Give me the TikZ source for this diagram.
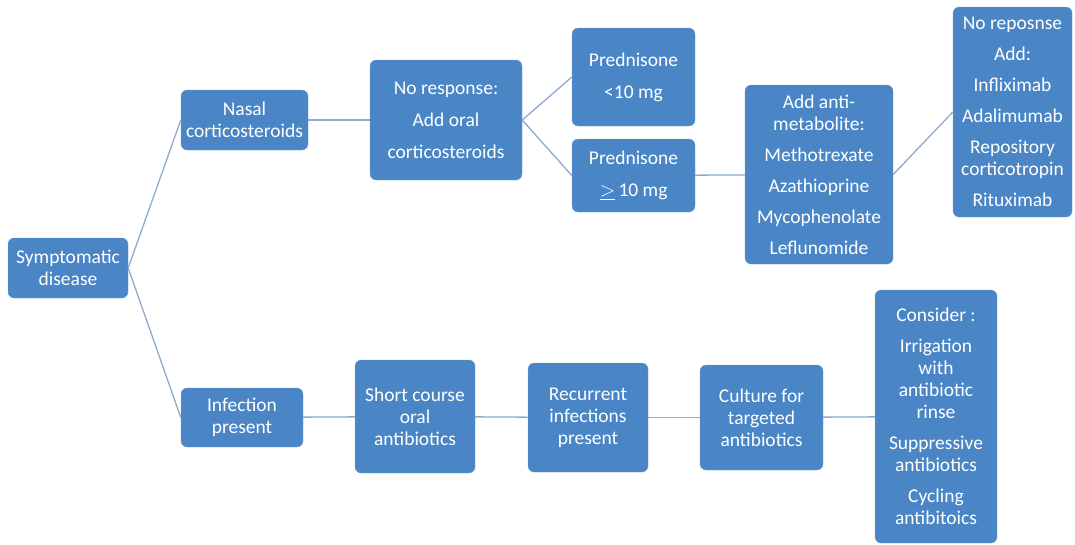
\documentclass[tikz,border=0pt]{standalone}
\usepackage{fontspec}
\setmainfont{Carlito}
\usepackage{amssymb}
\usetikzlibrary{positioning}
\definecolor{boxblue}{RGB}{74,134,198}
\definecolor{boxedge}{RGB}{120,165,215}
\definecolor{linkblue}{RGB}{140,170,210}
\tikzset{
  box/.style={rectangle, rounded corners=6pt, fill=boxblue, draw=boxedge,
    text=white, align=center, inner sep=0pt,
    font=\fontsize{19.5}{22}\selectfont},
  link/.style={draw=linkblue, line width=1.3pt}
}
\begin{document}
\begin{tikzpicture}[x=1pt, y=-1pt]
  \useasboundingbox (0,0) rectangle (1075,544);
  % upper branch
  \node [box, minimum width=120pt, minimum height=60pt] (symp) at (68,268) {Symptomatic\\disease};
  \node [box, minimum width=127pt, minimum height=60pt] (nasal) at (244.5,120) {Nasal\\corticosteroids};
  \node [box, minimum width=152pt, minimum height=120pt] (noresp) at (446,120) {No response:\\[10pt]Add oral\\[10pt]corticosteroids};
  \node [box, minimum width=123pt, minimum height=98pt] (predlow) at (633.5,77) {Prednisone\\[10pt]<10 mg};
  \node [box, minimum width=123pt, minimum height=73pt] (predhigh) at (633.5,175.5) {Prednisone\\[10pt]$\underline{>}$\,10 mg};
  \node [box, minimum width=148pt, minimum height=179pt] (antimet) at (819,174.5) {Add anti-\\metabolite:\\[9pt]Methotrexate\\[9pt]Azathioprine\\[9pt]Mycophenolate\\[9pt]Leflunomide};
  \node [box, minimum width=119pt, minimum height=210pt] (bio) at (1012.5,112) {No reposnse\\[9pt]Add:\\[9pt]Infliximab\\[9pt]Adalimumab\\[9pt]Repository\\corticotropin\\[9pt]Rituximab};
  % lower branch
  \node [box, minimum width=122pt, minimum height=59pt] (infect) at (242,417.5) {Infection\\present};
  \node [box, minimum width=120pt, minimum height=113pt] (short) at (415,416.5) {Short course\\oral\\antibiotics};
  \node [box, minimum width=120pt, minimum height=109pt] (recur) at (588,417.5) {Recurrent\\infections\\present};
  \node [box, minimum width=123pt, minimum height=105pt] (culture) at (761.5,417.5) {Culture for\\targeted\\antibiotics};
  \node [box, minimum width=122pt, minimum height=253pt] (consider) at (936,416.5) {Consider :\\[9pt]Irrigation\\with\\antibiotic\\rinse\\[9pt]Suppressive\\antibiotics\\[9pt]Cycling\\antibitoics};
  % connectors
  \draw [link] (symp.east) -- (nasal.west);
  \draw [link] (symp.east) -- (infect.west);
  \draw [link] (nasal) -- (noresp);
  \draw [link] (noresp.east) -- (predlow.west);
  \draw [link] (noresp.east) -- (predhigh.west);
  \draw [link] (predhigh) -- (antimet);
  \draw [link] (antimet.east) -- (bio.west);
  \draw [link] (infect) -- (short);
  \draw [link] (short) -- (recur);
  \draw [link] (recur) -- (culture);
  \draw [link] (culture) -- (consider);
\end{tikzpicture}
\end{document}
